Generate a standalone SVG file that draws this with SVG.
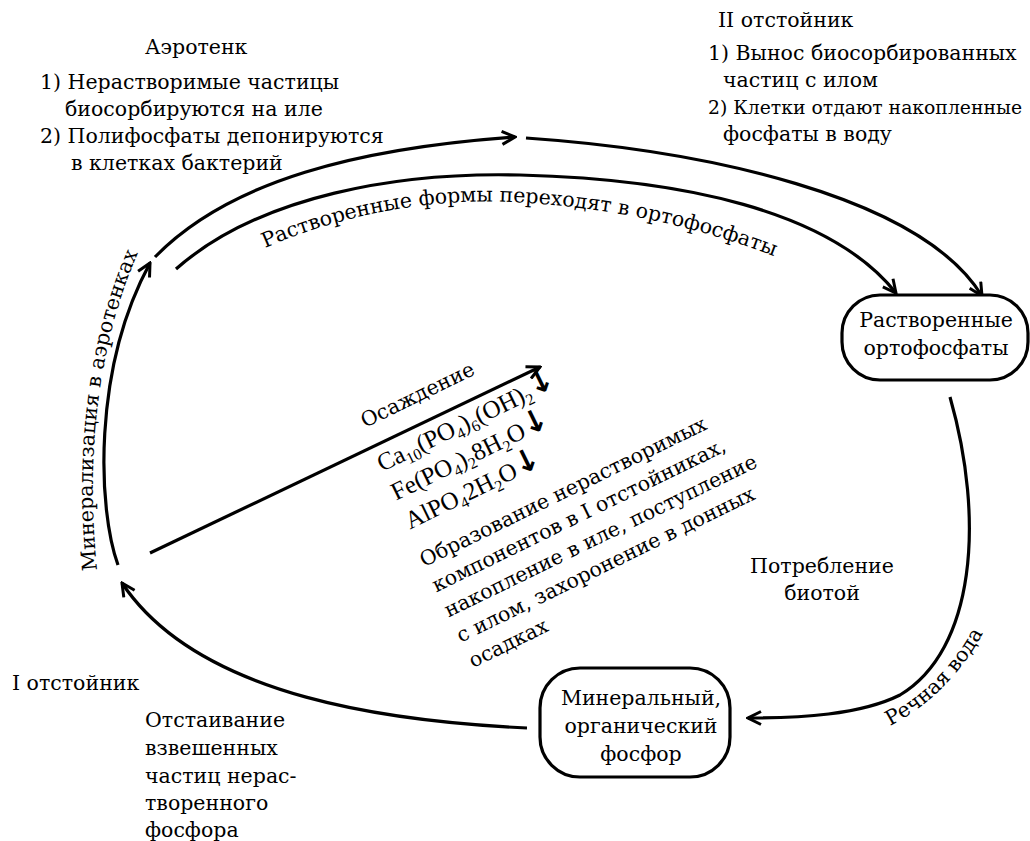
<svg xmlns="http://www.w3.org/2000/svg" width="1030" height="841" viewBox="0 0 1030 841">
<defs>
<style>
text{font-family:"DejaVu Serif","Liberation Serif",serif;font-size:20.5px;fill:#000}
.f{font-family:"Liberation Serif","DejaVu Serif",serif;font-size:25px}
.c{text-anchor:middle}
.ln{fill:none;stroke:#000;stroke-width:3.2}
.arr{marker-end:url(#ah)}
.box{fill:#fff;stroke:#000;stroke-width:3.2}
.sub{font-size:16px}
.dn{font-family:"DejaVu Sans",sans-serif;font-size:31px;font-weight:bold}
.sm{font-size:18.8px}
</style>
<marker id="ah" viewBox="0 0 16 16" refX="14" refY="8" markerWidth="16" markerHeight="16" markerUnits="userSpaceOnUse" orient="auto">
<path d="M1,1.5 L14,8 L1,14.5" fill="none" stroke="#000" stroke-width="3"/>
</marker>
<path id="tp1" d="M 265,248 C 340,215 430,198 510,202 C 600,206 700,225 788,262"/>
<path id="tp2" d="M 97,570 C 88,480 90,360 140,248"/>
<path id="tp3" d="M 890,726 Q 952,694 988,624"/>
</defs>
<rect width="1030" height="841" fill="#fff"/>

<g id="connectors">
<path class="ln arr" d="M 155,257 C 230,180 360,148 515,137"/>
<path class="ln arr" d="M 526,138 C 700,150 920,195 982,296"/>
<path class="ln arr" d="M 176,269 C 260,195 400,172 520,175 C 680,179 830,210 896,293"/>
<path class="ln arr" d="M 950,397 C 985,520 975,650 900,695 C 860,715 800,718 748,718"/>
<path class="ln arr" d="M 527,728 C 400,722 200,700 122,583"/>
<path class="ln arr" d="M 118,565 C 98,510 92,370 150,263"/>
<path class="ln arr" d="M 150,553 L 540,367"/>
</g>

<g id="node-rastvorennye-ortofosfaty">
<rect class="box" x="842" y="295" width="186" height="85" rx="38" ry="38"/>
<text class="c" x="936" y="327">Растворенные</text>
<text class="c" x="936" y="355">ортофосфаты</text>
</g>

<g id="node-mineralny-fosfor">
<rect class="box" x="540" y="668" width="190" height="109" rx="40" ry="40"/>
<text class="c" x="641" y="705">Минеральный,</text>
<text class="c" x="641" y="733">органический</text>
<text class="c" x="641" y="761">фосфор</text>
</g>

<g id="label-aerotenk">
<text x="145" y="54">Аэротенк</text>
<text x="40" y="89">1) Нерастворимые частицы</text>
<text x="65" y="116">биосорбируются на иле</text>
<text x="40" y="143">2) Полифосфаты депонируются</text>
<text x="71" y="170">в клетках бактерий</text>
</g>

<g id="label-otstoinik-2">
<text x="718" y="27">II отстойник</text>
<text x="708" y="60">1) Вынос биосорбированных</text>
<text x="723" y="87">частиц с илом</text>
<text class="sm" x="708" y="114">2) Клетки отдают накопленные</text>
<text x="723" y="141">фосфаты в воду</text>
</g>

<g id="label-rastvorennye-formy">
<text><textPath href="#tp1">Растворенные формы переходят в ортофосфаты</textPath></text>
</g>

<g id="label-mineralizaciya">
<text><textPath href="#tp2">Минерализация в аэротенках</textPath></text>
</g>

<g id="label-rechnaya-voda">
<text><textPath href="#tp3">Речная вода</textPath></text>
</g>

<g id="label-potreblenie">
<text class="c" x="822" y="573">Потребление</text>
<text class="c" x="822" y="600">биотой</text>
</g>

<g id="label-osazhdenie" transform="translate(382,472) rotate(-26)">
<text x="4" y="-47">Осаждение</text>
<text class="f" x="0" y="0">Ca<tspan class="sub" dy="5">10</tspan><tspan dy="-5">(PO</tspan><tspan class="sub" dy="5">4</tspan><tspan dy="-5">)</tspan><tspan class="sub" dy="5">6</tspan><tspan dy="-5">(OH)</tspan><tspan class="sub" dy="5">2</tspan><tspan class="dn" dy="-6">↓</tspan></text>
<text class="f" x="0" y="32">Fe(PO<tspan class="sub" dy="5">4</tspan><tspan dy="-5">)</tspan><tspan class="sub" dy="5">2</tspan><tspan dy="-5">8H</tspan><tspan class="sub" dy="5">2</tspan><tspan dy="-5">O</tspan><tspan class="dn">↓</tspan></text>
<text class="f" x="0" y="64">AlPO<tspan class="sub" dy="5">4</tspan><tspan dy="-5">2H</tspan><tspan class="sub" dy="5">2</tspan><tspan dy="-5">O</tspan><tspan class="dn">↓</tspan></text>
</g>

<g id="label-obrazovanie" transform="translate(382,472) rotate(-26)">
<text x="-4" y="104">Образование нерастворимых</text>
<text x="-4" y="132">компонентов в I отстойниках,</text>
<text x="-4" y="160">накопление в иле, поступление</text>
<text x="-4" y="188">с илом, захоронение в донных</text>
<text x="-4" y="216">осадках</text>
</g>

<g id="label-otstoinik-1">
<text x="12" y="690">I отстойник</text>
<text x="145" y="727">Отстаивание</text>
<text x="145" y="755">взвешенных</text>
<text x="145" y="783">частиц нерас-</text>
<text x="145" y="810">творенного</text>
<text x="145" y="837">фосфора</text>
</g>
</svg>
